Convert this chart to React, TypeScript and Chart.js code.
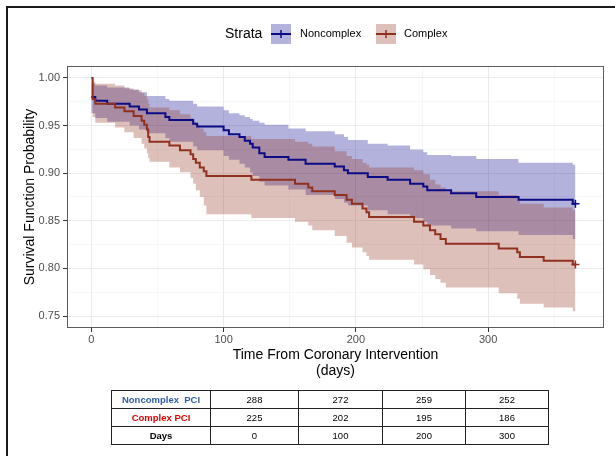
import React, { useEffect, useRef } from 'react';
import { Chart, registerables } from 'chart.js';

Chart.register(...registerables);

// ---------------- data ----------------
const legendTitle = 'Strata';
const seriesNames = ['Noncomplex', 'Complex'];

const noncomplexDays = [0, 3, 12, 29, 36, 42, 56, 59, 77, 80, 100, 104, 112, 116, 120, 122, 127, 131, 149, 162, 184, 191, 194, 209, 224, 241, 251, 254, 272, 291, 323, 364, 366];
const noncomplexSurv = [0.980, 0.976, 0.973, 0.970, 0.967, 0.963, 0.959, 0.956, 0.952, 0.949, 0.945, 0.941, 0.938, 0.934, 0.931, 0.927, 0.921, 0.917, 0.914, 0.910, 0.907, 0.903, 0.900, 0.896, 0.893, 0.889, 0.886, 0.882, 0.879, 0.875, 0.872, 0.868, 0.868];
const noncomplexUpper = [0.994, 0.992, 0.990, 0.988, 0.985, 0.981, 0.978, 0.976, 0.973, 0.970, 0.966, 0.963, 0.961, 0.959, 0.957, 0.955, 0.953, 0.951, 0.947, 0.944, 0.941, 0.938, 0.935, 0.931, 0.929, 0.925, 0.922, 0.919, 0.918, 0.915, 0.911, 0.909, 0.909];
const noncomplexLower = [0.963, 0.958, 0.954, 0.950, 0.946, 0.942, 0.937, 0.933, 0.928, 0.924, 0.918, 0.914, 0.910, 0.906, 0.901, 0.897, 0.891, 0.887, 0.883, 0.877, 0.873, 0.869, 0.866, 0.861, 0.857, 0.853, 0.849, 0.845, 0.842, 0.839, 0.835, 0.831, 0.831];

const complexDays = [0, 1, 3, 18, 25, 32, 38, 40, 42, 43, 44, 59, 67, 75, 77, 79, 82, 85, 87, 121, 154, 164, 167, 184, 193, 197, 205, 208, 210, 244, 251, 256, 260, 264, 268, 308, 322, 324, 342, 364, 366];
const complexSurv = [1.000, 0.978, 0.973, 0.969, 0.965, 0.960, 0.955, 0.951, 0.946, 0.938, 0.933, 0.929, 0.924, 0.920, 0.915, 0.911, 0.906, 0.902, 0.897, 0.893, 0.889, 0.885, 0.881, 0.877, 0.872, 0.868, 0.863, 0.859, 0.854, 0.849, 0.845, 0.840, 0.836, 0.831, 0.826, 0.821, 0.817, 0.812, 0.808, 0.804, 0.804];
const complexUpper = [1.000, 0.996, 0.994, 0.992, 0.989, 0.987, 0.984, 0.981, 0.978, 0.973, 0.969, 0.966, 0.962, 0.958, 0.954, 0.951, 0.947, 0.943, 0.939, 0.936, 0.933, 0.931, 0.928, 0.923, 0.918, 0.915, 0.911, 0.909, 0.906, 0.903, 0.899, 0.893, 0.888, 0.885, 0.881, 0.877, 0.872, 0.868, 0.864, 0.861, 0.861];
const complexLower = [1.000, 0.959, 0.953, 0.948, 0.943, 0.937, 0.931, 0.926, 0.921, 0.916, 0.912, 0.906, 0.901, 0.895, 0.889, 0.882, 0.875, 0.866, 0.857, 0.853, 0.849, 0.845, 0.840, 0.834, 0.827, 0.822, 0.817, 0.813, 0.809, 0.804, 0.799, 0.793, 0.789, 0.785, 0.780, 0.774, 0.768, 0.763, 0.759, 0.755, 0.755];

const censorDay = 366;

const riskRowLabels = ['Noncomplex  PCI', 'Complex PCI', 'Days'];
const noncomplexAtRisk = [288, 272, 259, 252];
const complexAtRisk = [225, 202, 195, 186];
const riskDays = [0, 100, 200, 300];

const xTitle = ['Time From Coronary Intervention', '(days)'];
const yTitle = 'Survival Function Probability';

// ---------------- styles ----------------
const FONT = '"Liberation Sans", Arial, Helvetica, sans-serif';
const NC_LINE = '#0B0B86';
const NC_BAND = 'rgba(0,0,139,0.30)';
const C_LINE = '#91301F';
const C_BAND = 'rgba(145,45,30,0.30)';

const isMajorY = (v: number) => Math.abs(v * 20 - Math.round(v * 20)) < 1e-6;
const isMajorX = (v: number) => Math.abs(v / 100 - Math.round(v / 100)) < 1e-6;

const toPts = (d: number[], v: number[]) => d.map((x, i) => ({ x, y: v[i] }));

const decorPlugin = {
  id: 'decor',
  afterDatasetsDraw(chart: any) {
    const { ctx, chartArea: ca } = chart;
    ctx.save();
    ctx.strokeStyle = 'rgba(51,51,51,0.8)';
    ctx.lineWidth = 1;
    ctx.strokeRect(ca.left + 0.5, ca.top + 0.5, ca.right - ca.left - 1, ca.bottom - ca.top - 1);
    ctx.restore();
  },
  afterDraw(chart: any) {
    const { ctx } = chart;
    ctx.save();
    // outer frame (top + left)
    ctx.fillStyle = '#1a1a1a';
    ctx.fillRect(6, 6, 615 - 6, 2);
    ctx.fillRect(6, 6, 2, 456 - 6);
    // legend
    ctx.textBaseline = 'middle';
    ctx.textAlign = 'left';
    ctx.fillStyle = '#000';
    ctx.font = `14px ${FONT}`;
    ctx.fillText(legendTitle, 225, 34);
    const keys = [
      { x: 271, band: NC_BAND, line: NC_LINE, name: seriesNames[0], tx: 300 },
      { x: 376, band: C_BAND, line: C_LINE, name: seriesNames[1], tx: 404 },
    ];
    keys.forEach((k) => {
      ctx.fillStyle = k.band;
      ctx.fillRect(k.x, 24, 20, 20);
      ctx.strokeStyle = k.line;
      ctx.lineWidth = 2;
      ctx.beginPath();
      ctx.moveTo(k.x, 34);
      ctx.lineTo(k.x + 20, 34);
      ctx.stroke();
      ctx.lineWidth = 1.5;
      ctx.beginPath();
      ctx.moveTo(k.x + 10, 30);
      ctx.lineTo(k.x + 10, 38);
      ctx.stroke();
      ctx.fillStyle = '#000';
      ctx.font = `11px ${FONT}`;
      ctx.fillText(k.name, k.tx, 34);
    });
    ctx.restore();
  },
};

export default function App() {
  const ref = useRef<HTMLCanvasElement>(null);

  useEffect(() => {
    const canvas = ref.current;
    if (!canvas) return;
    const band = (label: string, d: number[], v: number[], color: string, fill: any, order: number) => ({
      label,
      data: toPts(d, v),
      stepped: 'before' as const,
      borderWidth: 0,
      borderColor: 'rgba(0,0,0,0)',
      backgroundColor: color,
      pointRadius: 0,
      fill,
      order,
    });
    const chart = new Chart(canvas, {
      type: 'line',
      data: {
        datasets: [
          band('nc upper', noncomplexDays, noncomplexUpper, NC_BAND, '+1', 10),
          band('nc lower', noncomplexDays, noncomplexLower, NC_BAND, false, 9),
          band('c upper', complexDays, complexUpper, C_BAND, '+1', 8),
          band('c lower', complexDays, complexLower, C_BAND, false, 7),
          {
            label: seriesNames[0],
            data: toPts(noncomplexDays, noncomplexSurv),
            stepped: 'before',
            borderColor: NC_LINE,
            borderWidth: 2,
            pointRadius: 0,
            fill: false,
            order: 4,
          },
          {
            label: seriesNames[1],
            data: toPts(complexDays, complexSurv),
            stepped: 'before',
            borderColor: C_LINE,
            borderWidth: 2,
            pointRadius: 0,
            fill: false,
            order: 3,
          },
          {
            label: 'nc censor',
            data: [{ x: censorDay, y: noncomplexSurv[noncomplexSurv.length - 1] }],
            showLine: false,
            pointStyle: 'cross',
            pointRadius: 4,
            pointBorderColor: NC_LINE,
            pointBorderWidth: 1.5,
            order: 2,
          },
          {
            label: 'c censor',
            data: [{ x: censorDay, y: complexSurv[complexSurv.length - 1] }],
            showLine: false,
            pointStyle: 'cross',
            pointRadius: 4,
            pointBorderColor: C_LINE,
            pointBorderWidth: 1.5,
            order: 1,
          },
        ] as any,
      },
      options: {
        animation: false,
        responsive: false,
        devicePixelRatio: 1,
        events: [],
        layout: { padding: { left: 0, right: 11, top: 66, bottom: 0 } },
        plugins: {
          legend: { display: false },
          tooltip: { enabled: false },
        },
        scales: {
          x: {
            type: 'linear',
            min: -18.4,
            max: 387.6,
            ticks: {
              stepSize: 50,
              autoSkip: false,
              maxRotation: 0,
              includeBounds: false,
              padding: 1,
              color: '#4D4D4D',
              font: { family: FONT, size: 11 },
              callback: (v: any) => (isMajorX(Number(v)) ? String(Math.round(Number(v))) : ''),
            },
            grid: {
              color: (c: any) => (c.tick && isMajorX(c.tick.value) ? '#EBEBEB' : '#F3F3F3'),
              lineWidth: (c: any) => (c.tick && isMajorX(c.tick.value) ? 1 : 0.7),
              tickLength: 4,
              tickColor: (c: any) => (c.tick && isMajorX(c.tick.value) ? '#333333' : 'rgba(0,0,0,0)'),
              tickWidth: 1,
            },
            border: { display: false },
            title: {
              display: true,
              text: xTitle,
              color: '#000',
              font: { family: FONT, size: 14, lineHeight: '16px' },
              padding: { top: 0, bottom: 77 },
            },
            afterFit: (s: any) => {
              s.height = 128;
            },
          },
          y: {
            type: 'linear',
            min: 0.7374,
            max: 1.0126,
            ticks: {
              stepSize: 0.025,
              autoSkip: false,
              includeBounds: false,
              padding: 3,
              color: '#4D4D4D',
              font: { family: FONT, size: 11 },
              callback: (v: any) => (isMajorY(Number(v)) ? Number(v).toFixed(2) : ''),
            },
            grid: {
              color: (c: any) => (c.tick && isMajorY(c.tick.value) ? '#EBEBEB' : '#F3F3F3'),
              lineWidth: (c: any) => (c.tick && isMajorY(c.tick.value) ? 1 : 0.7),
              tickLength: 4,
              tickColor: (c: any) => (c.tick && isMajorY(c.tick.value) ? '#333333' : 'rgba(0,0,0,0)'),
              tickWidth: 1,
            },
            border: { display: false },
            title: {
              display: true,
              text: yTitle,
              color: '#000',
              font: { family: FONT, size: 14, lineHeight: '16px' },
              padding: { top: 22, bottom: 0 },
            },
            afterFit: (s: any) => {
              s.width = 67;
            },
          },
        },
      } as any,
      plugins: [decorPlugin],
    });
    return () => chart.destroy();
  }, []);

  const cellBase: React.CSSProperties = {
    border: '1px solid #222',
    padding: 0,
    height: 17,
    lineHeight: '17px',
    textAlign: 'center',
    whiteSpace: 'pre',
  };
  const labelColors = ['#2F5EA8', '#E00000', '#000000'];
  const rows = [noncomplexAtRisk, complexAtRisk, riskDays];

  return (
    <div style={{ position: 'absolute', left: 0, top: 0, width: 615, height: 456, background: '#fff', overflow: 'hidden' }}>
      <canvas ref={ref} width={615} height={456} style={{ position: 'absolute', left: 0, top: 0, width: 615, height: 456 }} />
      <table
        style={{
          position: 'absolute',
          left: 111,
          top: 390,
          width: 437,
          borderCollapse: 'collapse',
          tableLayout: 'fixed',
          fontFamily: FONT,
          fontSize: '9.5px',
          color: '#000',
          border: '1.5px solid #222',
        }}
      >
        <colgroup>
          <col style={{ width: 99 }} />
          <col style={{ width: 88 }} />
          <col style={{ width: 84 }} />
          <col style={{ width: 83 }} />
          <col style={{ width: 83 }} />
        </colgroup>
        <tbody>
          {rows.map((vals, r) => (
            <tr key={r}>
              <td style={{ ...cellBase, fontWeight: 'bold', color: labelColors[r] }}>{riskRowLabels[r]}</td>
              {vals.map((v, i) => (
                <td key={i} style={cellBase}>
                  {v}
                </td>
              ))}
            </tr>
          ))}
        </tbody>
      </table>
    </div>
  );
}
